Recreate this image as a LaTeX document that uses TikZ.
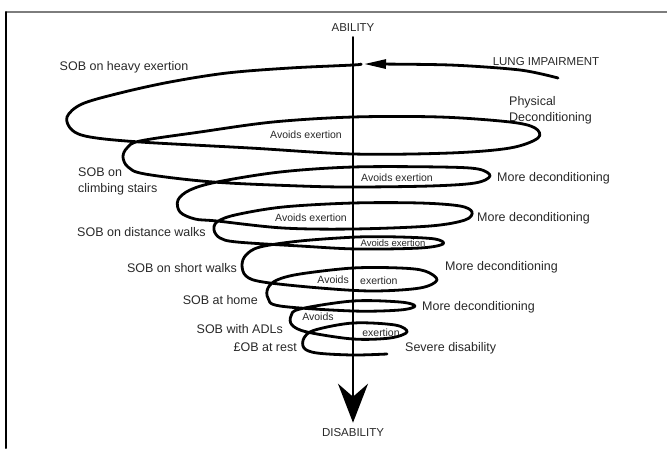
\documentclass[tikz,border=0pt]{standalone}
\usepackage{fontspec}
\setmainfont{Liberation Sans}
\usetikzlibrary{arrows.meta}
\definecolor{text_gray}{RGB}{40,40,40}
\definecolor{frame_gray}{RGB}{125,125,125}

\begin{document}
\begin{tikzpicture}[x=1pt,y=-1pt,line join=round,line cap=round]
    \tikzstyle{lbl}=[text=text_gray, inner sep=0pt, font=\fontsize{12.5}{16}\selectfont]
    \tikzstyle{caps}=[style=lbl, font=\fontsize{11.5}{14}\selectfont]
    \tikzstyle{small}=[style=lbl, font=\fontsize{10.5}{12}\selectfont]
    \tikzstyle{coil}=[line width=2.8pt, black]
    \tikzstyle{axis}=[line width=1.9pt, black, -{Stealth[length=39pt,width=30pt,inset=13pt]}]

    \useasboundingbox (0,0) rectangle (667,448);
    \draw[frame_gray, line width=2pt] (6,12) -- (667,12);
    \draw[black, line width=2pt] (6,12) -- (6,448);

    % axis labels
    \node[caps] (ability)    at (353,28)  {ABILITY};
    \node[caps] (disability) at (353,433) {DISABILITY};
    \node[caps] (lung)       at (546,62)  {LUNG IMPAIRMENT};
    \coordinate (lung_tail) at (558,78);
    \coordinate (lung_tip)  at (364,64);

    % left side
    \node[lbl] (heavy)    at (124,67) {SOB on heavy exertion};
    \node[lbl, anchor=west, align=left] (stairs) at (78,181) {SOB on\\climbing stairs};
    \node[lbl, anchor=west] (distance) at (77,232)  {SOB on distance walks};
    \node[lbl, anchor=east] (short)    at (237,268) {SOB on short walks};
    \node[lbl, anchor=east] (home)     at (258,300) {SOB at home};
    \node[lbl, anchor=east] (adl)      at (283,329) {SOB with ADLs};
    \node[lbl, anchor=east] (rest)     at (297,347) {£OB at rest};

    % right side
    \node[lbl, anchor=west, align=left] (phys) at (509,110) {Physical\\Deconditioning};
    \node[lbl, anchor=west] (more2)  at (497,178) {More deconditioning};
    \node[lbl, anchor=west] (more3)  at (477,218) {More deconditioning};
    \node[lbl, anchor=west] (more5)  at (445,267) {More deconditioning};
    \node[lbl, anchor=west] (more6)  at (422,307) {More deconditioning};
    \node[lbl, anchor=west] (severe) at (405,348) {Severe disability};

    % inside the coils
    \node[small] (avoid1) at (306,135) {Avoids exertion};
    \node[small] (avoid2) at (397,178) {Avoids exertion};
    \node[small] (avoid3) at (311,218) {Avoids exertion};
    \node[small, font=\fontsize{9.5}{11}\selectfont] (avoid4) at (393,243) {Avoids exertion};
    \node[small, anchor=east] (avoid5a) at (349,280) {Avoids};
    \node[small, anchor=west] (avoid5b) at (360,281) {exertion};
    \node[small] (avoid7a) at (318,317) {Avoids};
    \node[small] (avoid7b) at (381,333) {exertion};

    \path (ability) edge[axis, shorten <=5pt, shorten >=6pt] (disability);

    \draw[coil, -{Triangle[length=22pt,width=9pt]}] plot[smooth] coordinates
      {(lung_tail) (520,70) (450,65) (lung_tip)};
    \draw[coil] plot[smooth, tension=0.55] coordinates {
      (361,64) (353,65) (290,68) (227,73) (170,82) (120,93) (82,104) (67,117)
      (72,130) (90,137) (140,142) (250,148) (353,154) (450,153) (510,148)
      (538,138) (535,128) (510,122) (440,117) (353,117) (273,122) (200,132)
      (140,141) (127,148) (123,157) (128,167) (145,174) (213,182) (300,186)
      (353,187) (430,186) (475,183) (490,176) (478,169) (440,167) (353,167)
      (280,172) (217,182) (190,190) (178,200) (180,212) (195,219) (217,221)
      (283,228) (353,229) (430,226) (465,220) (472,212) (460,206) (420,203)
      (353,203) (283,207) (235,215) (217,222) (214,230) (220,238) (237,242)
      (300,246) (357,249) (420,248) (443,244) (435,239) (400,237) (357,237)
      (300,241) (260,247) (246,255) (242,265) (246,276) (263,282) (320,288)
      (373,291) (420,288) (437,280) (425,271) (400,268) (353,268) (300,274)
      (277,280) (268,288) (268,298) (280,306) (353,311) (400,310) (415,306)
      (400,302) (353,301) (300,309) (291,316) (292,325) (307,332) (353,339)
      (390,338) (407,332) (395,325) (353,323) (315,330) (304,338) (304,348)
      (317,353) (353,355) (387,354)};
\end{tikzpicture}
\end{document}
